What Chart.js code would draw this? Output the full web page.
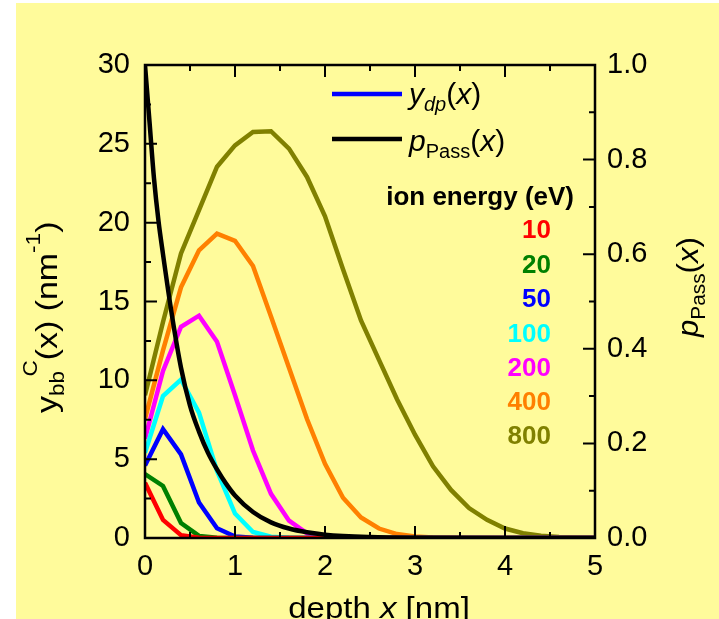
<!DOCTYPE html>
<html>
<head>
<meta charset="utf-8">
<script src="https://cdn.jsdelivr.net/npm/chart.js@4.4.0/dist/chart.umd.min.js"></script>
<style>
html, body { margin: 0; padding: 0; background: #fff; }
</style>
</head>
<body>
<canvas id="myChart" width="719" height="619"></canvas>
<script>
// depth grid (nm) for the y_dp curves
const depth = [0, 0.2, 0.4, 0.6, 0.8, 1.0, 1.2, 1.4, 1.6, 1.8, 2.0, 2.2, 2.4, 2.6, 2.8, 3.0, 3.2, 3.4, 3.6, 3.8, 4.0, 4.2, 4.4, 4.6, 4.8, 5.0];

// y_dp(x) per ion energy
const e10  = [3.5, 1.15, 0.18, 0.02, 0, 0, 0, 0, 0, 0, 0, 0, 0, 0, 0, 0, 0, 0, 0, 0, 0, 0, 0, 0, 0, 0];
const e20  = [4.05, 3.3, 0.95, 0.13, 0.02, 0, 0, 0, 0, 0, 0, 0, 0, 0, 0, 0, 0, 0, 0, 0, 0, 0, 0, 0, 0, 0];
const e50  = [4.6, 6.9, 5.3, 2.25, 0.62, 0.1, 0.02, 0, 0, 0, 0, 0, 0, 0, 0, 0, 0, 0, 0, 0, 0, 0, 0, 0, 0, 0];
const e100 = [5.4, 9.0, 10.05, 7.95, 4.25, 1.55, 0.38, 0.08, 0.01, 0, 0, 0, 0, 0, 0, 0, 0, 0, 0, 0, 0, 0, 0, 0, 0, 0];
const e200 = [6.3, 10.6, 13.4, 14.1, 12.45, 9.05, 5.55, 2.8, 1.1, 0.3, 0.08, 0.02, 0, 0, 0, 0, 0, 0, 0, 0, 0, 0, 0, 0, 0, 0];
const e400 = [7.55, 11.9, 15.9, 18.25, 19.3, 18.85, 17.25, 14.05, 10.8, 7.55, 4.7, 2.55, 1.3, 0.6, 0.25, 0.1, 0.03, 0.01, 0, 0, 0, 0, 0, 0, 0, 0];
const e800 = [9.05, 13.7, 18.05, 20.8, 23.55, 24.9, 25.75, 25.8, 24.7, 22.9, 20.4, 17.05, 13.8, 11.3, 8.8, 6.55, 4.55, 3.05, 1.9, 1.15, 0.6, 0.3, 0.15, 0.07, 0.03, 0.01];

// p_Pass(x) on the right axis
const passDepth = [0, 0.05, 0.1, 0.15, 0.2, 0.3, 0.4, 0.5, 0.6, 0.7, 0.8, 0.9, 1.0, 1.2, 1.4, 1.6, 1.8, 2.0, 2.5, 3.0, 4.0, 5.0];
const pPass     = [1.0, 0.88, 0.76, 0.67, 0.6, 0.47, 0.36, 0.28, 0.225, 0.18, 0.145, 0.115, 0.09, 0.055, 0.033, 0.02, 0.012, 0.007, 0.002, 0.0005, 0, 0];

const energies = ['10', '20', '50', '100', '200', '400', '800'];
const energyColors = ['#ff0000', '#008000', '#0000ff', '#00ffff', '#ff00ff', '#ff8000', '#808000'];
const seriesValues = [e10, e20, e50, e100, e200, e400, e800];

// tick labels
const xTicks = [0, 1, 2, 3, 4, 5];
const yTicks = [0, 5, 10, 15, 20, 25, 30];
const y2Ticks = [0, 0.2, 0.4, 0.6, 0.8, 1.0];

const FONT = '"Liberation Sans", Arial, sans-serif';

const toPts = (xs, ys) => xs.map((x, i) => ({ x: x, y: ys[i] }));

// dataset 0 is drawn on top, so black first, then red .. olive
const datasets = [{
    label: 'pPass',
    data: toPts(passDepth, pPass),
    yAxisID: 'y2',
    borderColor: '#000',
    borderWidth: 4.5,
    pointRadius: 0,
    cubicInterpolationMode: 'monotone'
}];
seriesValues.forEach((vals, i) => {
    datasets.push({
        label: energies[i],
        data: toPts(depth, vals),
        yAxisID: 'y',
        borderColor: energyColors[i],
        borderWidth: 4.5,
        pointRadius: 0,
        tension: 0
    });
});

// draw a run of text pieces (for sub/superscripts)
function drawRuns(c, x, y, runs) {
    let cx = x;
    runs.forEach(r => {
        c.font = r.font;
        cx += r.shift || 0;
        c.fillText(r.t, cx, y + (r.dy || 0));
        cx += c.measureText(r.t).width;
    });
    return cx;
}
function runsWidth(c, runs) {
    let w = 0;
    runs.forEach(r => { c.font = r.font; w += (r.shift || 0) + c.measureText(r.t).width; });
    return w;
}

const deco = {
    id: 'deco',
    beforeDraw(chart) {
        const c = chart.ctx;
        c.save();
        c.fillStyle = '#fffb9b';
        c.fillRect(16, 3, chart.width - 16, chart.height - 3);
        c.restore();
    },
    afterDatasetsDraw(chart) {
        const c = chart.ctx;
        const a = chart.chartArea;
        const xs = chart.scales.x, ys = chart.scales.y, ys2 = chart.scales.y2;
        c.save();
        c.strokeStyle = '#000';
        c.lineWidth = 2.5;
        c.strokeRect(a.left, a.top, a.right - a.left, a.bottom - a.top);
        c.lineWidth = 2;
        c.beginPath();
        for (let k = 0; k <= 10; k++) {
            const px = xs.getPixelForValue(k * 0.5);
            const len = k % 2 === 0 ? 12 : 6;
            c.moveTo(px, a.bottom); c.lineTo(px, a.bottom - len);
            c.moveTo(px, a.top); c.lineTo(px, a.top + len);
        }
        for (let k = 0; k <= 12; k++) {
            const py = ys.getPixelForValue(k * 2.5);
            const len = k % 2 === 0 ? 12 : 6;
            c.moveTo(a.left, py); c.lineTo(a.left + len, py);
        }
        for (let k = 0; k <= 10; k++) {
            const py = ys2.getPixelForValue(k * 0.1);
            const len = k % 2 === 0 ? 12 : 6;
            c.moveTo(a.right, py); c.lineTo(a.right - len, py);
        }
        c.stroke();
        c.restore();
    },
    afterDraw(chart) {
        const c = chart.ctx;
        c.save();
        c.fillStyle = '#000';
        c.textBaseline = 'alphabetic';
        c.textAlign = 'left';

        const big = '30px ' + FONT, bigI = 'italic 30px ' + FONT;
        const sm = '20px ' + FONT, smI = 'italic 20px ' + FONT;

        // legend
        c.lineWidth = 4.5;
        c.strokeStyle = '#0000ff';
        c.beginPath(); c.moveTo(332, 94); c.lineTo(402, 94); c.stroke();
        c.strokeStyle = '#000';
        c.beginPath(); c.moveTo(332, 139); c.lineTo(402, 139); c.stroke();
        drawRuns(c, 409, 104, [
            { t: 'y', font: bigI }, { t: 'dp', font: smI, dy: 7 },
            { t: '(', font: big }, { t: 'x', font: bigI }, { t: ')', font: big }
        ]);
        drawRuns(c, 409, 151, [
            { t: 'p', font: bigI }, { t: 'Pass', font: sm, dy: 7 },
            { t: '(', font: big }, { t: 'x', font: bigI }, { t: ')', font: big }
        ]);

        // energy labels
        c.textAlign = 'right';
        c.font = 'bold 26px ' + FONT;
        c.fillText('ion energy (eV)', 574, 205);
        const base = [238, 273, 307, 342, 376, 410, 444];
        energies.forEach((e, i) => {
            c.fillStyle = energyColors[i];
            c.fillText(e, 551, base[i]);
        });
        c.fillStyle = '#000';
        c.textAlign = 'left';

        // x axis title
        const xr = [{ t: 'depth ', font: big }, { t: 'x', font: bigI }, { t: ' [nm]', font: big }];
        c.save();
        c.translate(379, 618);
        c.scale(1.1, 1);
        drawRuns(c, -runsWidth(c, xr) / 2, 0, xr);
        c.restore();

        // left axis title (rotated)
        c.save();
        c.translate(57, 413);
        c.rotate(-Math.PI / 2);
        c.scale(1.13, 1);
        drawRuns(c, 0, 0, [
            { t: 'y', font: big }, { t: 'bb', font: sm, dy: 7 },
            { t: 'C', font: sm, dy: -20, shift: -5 },
            { t: '(x) (nm', font: big }, { t: '-1', font: sm, dy: -17 },
            { t: ')', font: big }
        ]);
        c.restore();

        // right axis title (rotated)
        c.save();
        c.translate(698, 337);
        c.rotate(-Math.PI / 2);
        c.scale(1.04, 1);
        drawRuns(c, 0, 0, [
            { t: 'p', font: bigI }, { t: 'Pass', font: sm, dy: 7 },
            { t: '(', font: big }, { t: 'x', font: bigI }, { t: ')', font: big }
        ]);
        c.restore();
        c.restore();
    }
};

const tickFont = { family: FONT, size: 29 };

const config = {
    type: 'line',
    data: { datasets: datasets },
    options: {
        responsive: false,
        animation: false,
        layout: { padding: { top: 65, left: 0, right: 0, bottom: 0 } },
        plugins: { legend: { display: false }, tooltip: { enabled: false } },
        scales: {
            x: {
                type: 'linear', position: 'bottom', min: 0, max: 5,
                grid: { display: false, drawTicks: false }, border: { display: false },
                afterBuildTicks: s => { s.ticks = xTicks.map(v => ({ value: v })); },
                ticks: { color: '#000', font: tickFont, padding: 12, maxRotation: 0 },
                afterFit: s => { s.height = 81; }
            },
            y: {
                type: 'linear', position: 'left', min: 0, max: 30,
                grid: { display: false, drawTicks: false }, border: { display: false },
                afterBuildTicks: s => { s.ticks = yTicks.map(v => ({ value: v })); },
                ticks: { color: '#000', font: tickFont, padding: 15 },
                afterFit: s => { s.width = 145; }
            },
            y2: {
                type: 'linear', position: 'right', min: 0, max: 1,
                grid: { display: false, drawTicks: false }, border: { display: false },
                afterBuildTicks: s => { s.ticks = y2Ticks.map(v => ({ value: v })); },
                ticks: { color: '#000', font: tickFont, padding: 12, callback: v => v.toFixed(1) },
                afterFit: s => { s.width = 124; }
            }
        }
    },
    plugins: [deco]
};

const myChart = new Chart(document.getElementById('myChart').getContext('2d'), config);
</script>
</body>
</html>
